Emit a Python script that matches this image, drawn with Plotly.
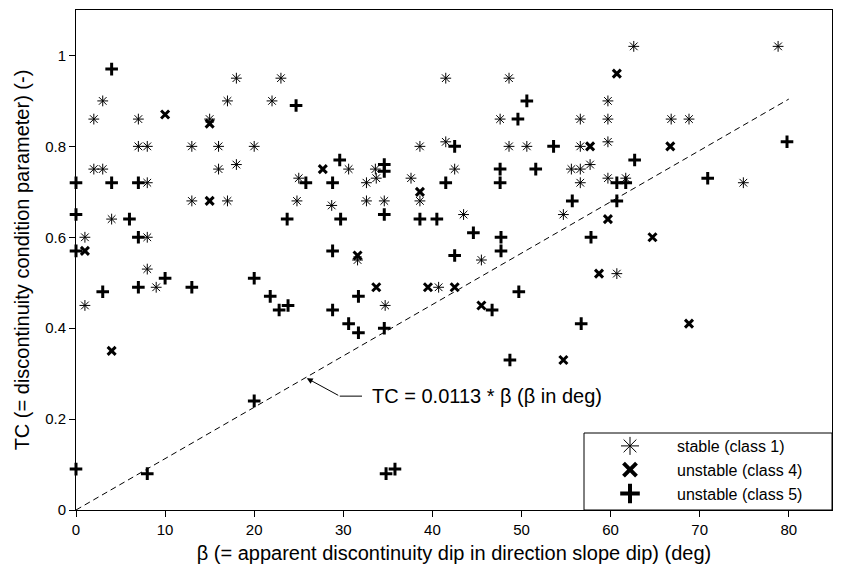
import plotly.graph_objects as go

# beta (deg) and TC (-) for each class
stable_beta = [3, 2, 7, 7, 8, 2, 3, 8, 4, 1, 8, 8, 13, 16, 20, 16, 18, 13, 17, 17, 18, 15, 1, 9,
               23, 22, 41.5, 41.5, 38.6, 30.6, 33.6, 25, 32.6, 33.7, 37.6, 38.6, 24.8, 28.7, 32.6, 34.6,
               31.6, 34.7, 40.7,
               48.6, 62.6, 47.6, 56.6, 59.7, 59.7, 48.6, 50.6, 56.6, 59.7, 42.5, 55.6, 56.6, 57.7,
               56.6, 59.7, 61.7, 54.7, 43.5, 45.5, 60.7,
               78.8, 66.8, 68.8, 74.9]
stable_tc = [0.90, 0.86, 0.86, 0.80, 0.80, 0.75, 0.75, 0.72, 0.64, 0.60, 0.60, 0.53, 0.80, 0.80, 0.80, 0.75, 0.76, 0.68, 0.68, 0.90, 0.95, 0.86, 0.45, 0.49,
             0.95, 0.90, 0.95, 0.81, 0.80, 0.75, 0.75, 0.73, 0.72, 0.73, 0.73, 0.68, 0.68, 0.67, 0.68, 0.68,
             0.55, 0.45, 0.49,
             0.95, 1.02, 0.86, 0.86, 0.86, 0.90, 0.80, 0.80, 0.80, 0.81, 0.75, 0.75, 0.75, 0.76,
             0.72, 0.73, 0.73, 0.65, 0.65, 0.55, 0.52,
             1.02, 0.86, 0.86, 0.72]

class4_beta = [10, 15, 15, 1, 4, 27.7, 38.6, 31.6, 33.7, 39.5, 60.7, 57.7, 59.7, 58.7, 66.7, 64.7,
               42.5, 45.5, 54.7, 68.8]
class4_tc = [0.87, 0.85, 0.68, 0.57, 0.35, 0.75, 0.70, 0.56, 0.49, 0.49, 0.96, 0.80, 0.64, 0.52, 0.80, 0.60,
             0.49, 0.45, 0.33, 0.41]

class5_beta = [4, 0, 4, 7, 0, 6, 7, 0, 10, 20, 3, 7, 13, 20, 0, 8,
               24.7, 29.6, 34.6, 34.6, 25.8, 28.8, 41.5, 23.7, 29.7, 34.6, 38.6, 40.5, 28.8,
               50.6, 49.6, 42.5, 53.6, 62.7, 47.6, 51.6, 47.6, 60.7, 61.7, 55.7, 60.7, 44.6, 47.7, 47.7,
               42.5, 57.8,
               79.8, 70.9,
               21.8, 22.8, 23.8, 28.8, 31.7, 30.6, 31.7, 34.6, 34.8, 35.8,
               49.7, 46.7, 56.7, 48.7]
class5_tc = [0.97, 0.72, 0.72, 0.72, 0.65, 0.64, 0.60, 0.57, 0.51, 0.51, 0.48, 0.49, 0.49, 0.24, 0.09, 0.08,
             0.89, 0.77, 0.76, 0.745, 0.72, 0.72, 0.72, 0.64, 0.64, 0.65, 0.64, 0.64, 0.57,
             0.90, 0.86, 0.80, 0.80, 0.77, 0.75, 0.75, 0.72, 0.72, 0.72, 0.68, 0.68, 0.61, 0.60, 0.57,
             0.56, 0.60,
             0.81, 0.73,
             0.47, 0.44, 0.45, 0.44, 0.47, 0.41, 0.39, 0.40, 0.08, 0.09,
             0.48, 0.44, 0.41, 0.33]

# boundary line TC = 0.0113 * beta
line_beta = [0, 80]
line_slope = 0.0113
line_tc = [line_slope * b for b in line_beta]

x_ticks = [0, 10, 20, 30, 40, 50, 60, 70, 80]
y_ticks = [0, 0.2, 0.4, 0.6, 0.8, 1.0]

FONT = "Liberation Sans, Arial, sans-serif"

fig = go.Figure()

fig.add_trace(go.Scatter(
    x=line_beta, y=line_tc, mode="lines",
    line=dict(color="black", width=1, dash="6px,4px"),
    showlegend=False, hoverinfo="skip"))

fig.add_trace(go.Scatter(
    x=stable_beta, y=stable_tc, mode="markers", showlegend=False,
    marker=dict(symbol="asterisk-open", size=9, color="black",
                line=dict(color="black", width=1)),
    cliponaxis=False))
fig.add_trace(go.Scatter(
    x=class4_beta, y=class4_tc, mode="markers", showlegend=False,
    marker=dict(symbol="x-thin-open", size=8, color="black",
                line=dict(color="black", width=3)),
    cliponaxis=False))
fig.add_trace(go.Scatter(
    x=class5_beta, y=class5_tc, mode="markers", showlegend=False,
    marker=dict(symbol="cross-thin-open", size=9, color="black",
                line=dict(color="black", width=3)),
    cliponaxis=False))

# legend entries with larger symbols
fig.add_trace(go.Scatter(
    x=[None], y=[None], mode="markers", name="stable (class 1)",
    marker=dict(symbol="asterisk-open", size=15, color="black",
                line=dict(color="black", width=1))))
fig.add_trace(go.Scatter(
    x=[None], y=[None], mode="markers", name="unstable (class 4)",
    marker=dict(symbol="x-thin-open", size=13, color="black",
                line=dict(color="black", width=4))))
fig.add_trace(go.Scatter(
    x=[None], y=[None], mode="markers", name="unstable (class 5)",
    marker=dict(symbol="cross-thin-open", size=14, color="black",
                line=dict(color="black", width=4))))

axis_common = dict(
    showgrid=False, zeroline=False, showline=True, linecolor="black", linewidth=1,
    mirror=True, ticks="outside", ticklen=6, tickcolor="black", tickwidth=1,
    tickfont=dict(family=FONT, size=15, color="black"),
)

fig.update_layout(
    width=841, height=570, autosize=False,
    margin=dict(l=76, r=9, t=10, b=60),
    paper_bgcolor="white", plot_bgcolor="white",
    font=dict(family=FONT, color="black"),
    xaxis=dict(range=[0, 84.85], tickvals=x_ticks,
               title=dict(text="\u03b2 (= apparent discontinuity dip in direction slope dip) (deg)",
                          font=dict(family=FONT, size=20), standoff=8),
               **axis_common),
    yaxis=dict(range=[0, 1.1], tickvals=y_ticks, ticktext=["0", "0.2", "0.4", "0.6", "0.8", "1"],
               title=dict(text="TC (= discontinuity condition parameter) (-)",
                          font=dict(family=FONT, size=20), standoff=10),
               **axis_common),
    legend=dict(x=(583 - 76) / 756, y=(510 - 470) / 500, xanchor="left", yanchor="middle",
                bgcolor="rgba(0,0,0,0)", borderwidth=0, itemwidth=84,
                font=dict(family=FONT, size=16, color="black")),
    shapes=[
        dict(type="rect", xref="paper", yref="paper",
             x0=(584 - 76) / 756, x1=1, y0=0, y1=(510 - 433) / 500,
             line=dict(color="black", width=1), fillcolor="white", layer="below"),
        dict(type="line", xref="x", yref="y", x0=29.6, y0=0.2505, x1=32.1, y1=0.2505,
             line=dict(color="black", width=1)),
    ],
    annotations=[
        dict(x=25.9, y=0.29, xref="x", yref="y", ax=29.6, ay=0.2505, axref="x", ayref="y",
             text="", showarrow=True, arrowhead=2, arrowsize=1.2, arrowwidth=1, arrowcolor="black"),
        dict(x=33.0, y=0.2505, xref="x", yref="y", xanchor="left", yanchor="middle",
             text="TC = 0.0113 * \u03b2 (\u03b2 in deg)", showarrow=False,
             font=dict(family=FONT, size=20, color="black")),
    ],
)

fig.write_html("out.html")
